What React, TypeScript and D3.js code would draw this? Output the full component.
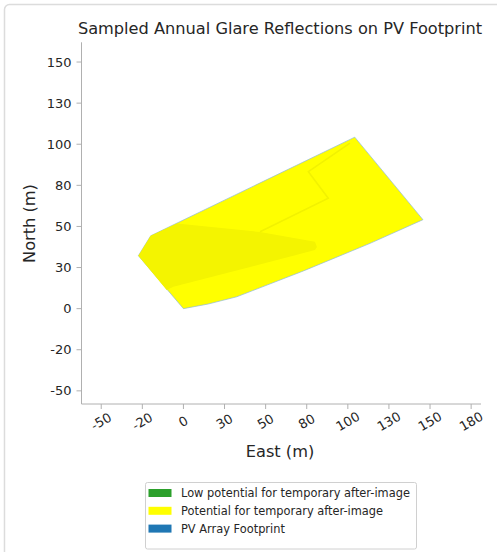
import React from "react";
import * as d3 from "d3";

const W = 497;
const H = 552;

const xTickValues = [-50, -25, 0, 25, 50, 75, 100, 125, 150, 175];
const xTickLabels = ["-50", "-20", "0", "30", "50", "80", "100", "130", "150", "180"];
const yTickValues = [-50, -25, 0, 25, 50, 75, 100, 125, 150];
const yTickLabels = ["-50", "-20", "0", "30", "50", "80", "100", "130", "150"];

// PV array footprint (East, North) in metres
const footprint: [number, number][] = [
  [0, 0],
  [15, 2.8],
  [32.4, 7.2],
  [72.9, 22.9],
  [113.5, 39.7],
  [145.7, 54.1],
  [104.2, 104.3],
  [-19.9, 44.3],
  [-27.4, 32.2],
];

// glare patch overlap (slightly darker yellow)
const glareOverlap: [number, number][] = [
  [-27.4, 32.2],
  [-19.9, 44.3],
  [-3.9, 51.8],
  [46.6, 46.6],
  [80, 40.7],
  [81.2, 37.5],
  [80, 35.6],
  [-6.1, 13.3],
  [-10.2, 11.3],
];

// seam between glare patches
const glareSeam: [number, number][] = [
  [46.6, 46.8],
  [88.1, 67.1],
  [76, 83.3],
  [101.3, 100.7],
];

const legendLabels = [
  "Low potential for temporary after-image",
  "Potential for temporary after-image",
  "PV Array Footprint",
];
const legendColors = ["#2ca02c", "#ffff00", "#1f77b4"];

export default function App() {
  const x = d3.scaleLinear().domain([-62, 181]).range([81.5, 481]);
  const y = d3.scaleLinear().domain([-58, 162]).range([404, 42.3]);
  const line = d3
    .line<[number, number]>()
    .x((d) => x(d[0]))
    .y((d) => y(d[1]));
  const closed = (pts: [number, number][]) => line(pts) + "Z";

  const axisColor = "#b0b0b0";
  const textColor = "#262626";
  const font = "DejaVu Sans, sans-serif";
  const x0 = x.range()[0];
  const x1 = x.range()[1];
  const yb = y.range()[0];
  const yt = y.range()[1];

  return (
    <svg
      width={W}
      height={H}
      style={{ position: "absolute", left: 0, top: 0, background: "#fff" }}
      fontFamily={font}
    >
      <rect x={4.5} y={4.5} width={540} height={600} rx={5} fill="#fff" stroke="#dcdcdc" strokeWidth={1.5} />

      <text x={280} y={34} textAnchor="middle" fontSize={16.2} fill={textColor}>
        Sampled Annual Glare Reflections on PV Footprint
      </text>

      {/* polygons */}
      <path d={closed(footprint)} fill="#ffff00" stroke="#8fb9d9" strokeWidth={0.7} strokeLinejoin="round" />
      <path d={closed(glareOverlap)} fill="#f4f400" stroke="none" />
      <path d={line(glareSeam) || ""} fill="none" stroke="#f2f200" strokeWidth={1.6} />

      {/* axes */}
      <line x1={x0} x2={x0} y1={yt} y2={yb} stroke={axisColor} strokeWidth={1} />
      <line x1={x0} x2={x1} y1={yb} y2={yb} stroke={axisColor} strokeWidth={1} />

      {yTickValues.map((v, i) => (
        <g key={"y" + i}>
          <line x1={x0 - 5} x2={x0} y1={y(v)} y2={y(v)} stroke={axisColor} strokeWidth={1} />
          <text x={x0 - 10} y={y(v)} textAnchor="end" dominantBaseline="central" fontSize={13} fill={textColor}>
            {yTickLabels[i]}
          </text>
        </g>
      ))}
      {xTickValues.map((v, i) => (
        <g key={"x" + i}>
          <line x1={x(v)} x2={x(v)} y1={yb} y2={yb + 5} stroke={axisColor} strokeWidth={1} />
          <text
            x={x(v)}
            y={421.5}
            transform={`rotate(-30, ${x(v)}, 421.5)`}
            textAnchor="middle"
            dominantBaseline="central"
            fontSize={13}
            fill={textColor}
          >
            {xTickLabels[i]}
          </text>
        </g>
      ))}

      <text x={280} y={457} textAnchor="middle" fontSize={16.2} fill={textColor}>
        East (m)
      </text>
      <text
        x={0}
        y={0}
        transform={`translate(35, 223.5) rotate(-90)`}
        textAnchor="middle"
        fontSize={16.2}
        fill={textColor}
      >
        North (m)
      </text>

      {/* legend */}
      <rect x={145.5} y={482.5} width={271} height={66.5} rx={2} fill="#fff" stroke="#d0d0d0" strokeWidth={1} />
      {legendLabels.map((l, i) => (
        <g key={"l" + i}>
          <rect x={148.5} y={489 + i * 17.8} width={23} height={8} fill={legendColors[i]} />
          <text x={181} y={493 + i * 17.8} dominantBaseline="central" fontSize={11.4} fill={textColor}>
            {l}
          </text>
        </g>
      ))}
    </svg>
  );
}
